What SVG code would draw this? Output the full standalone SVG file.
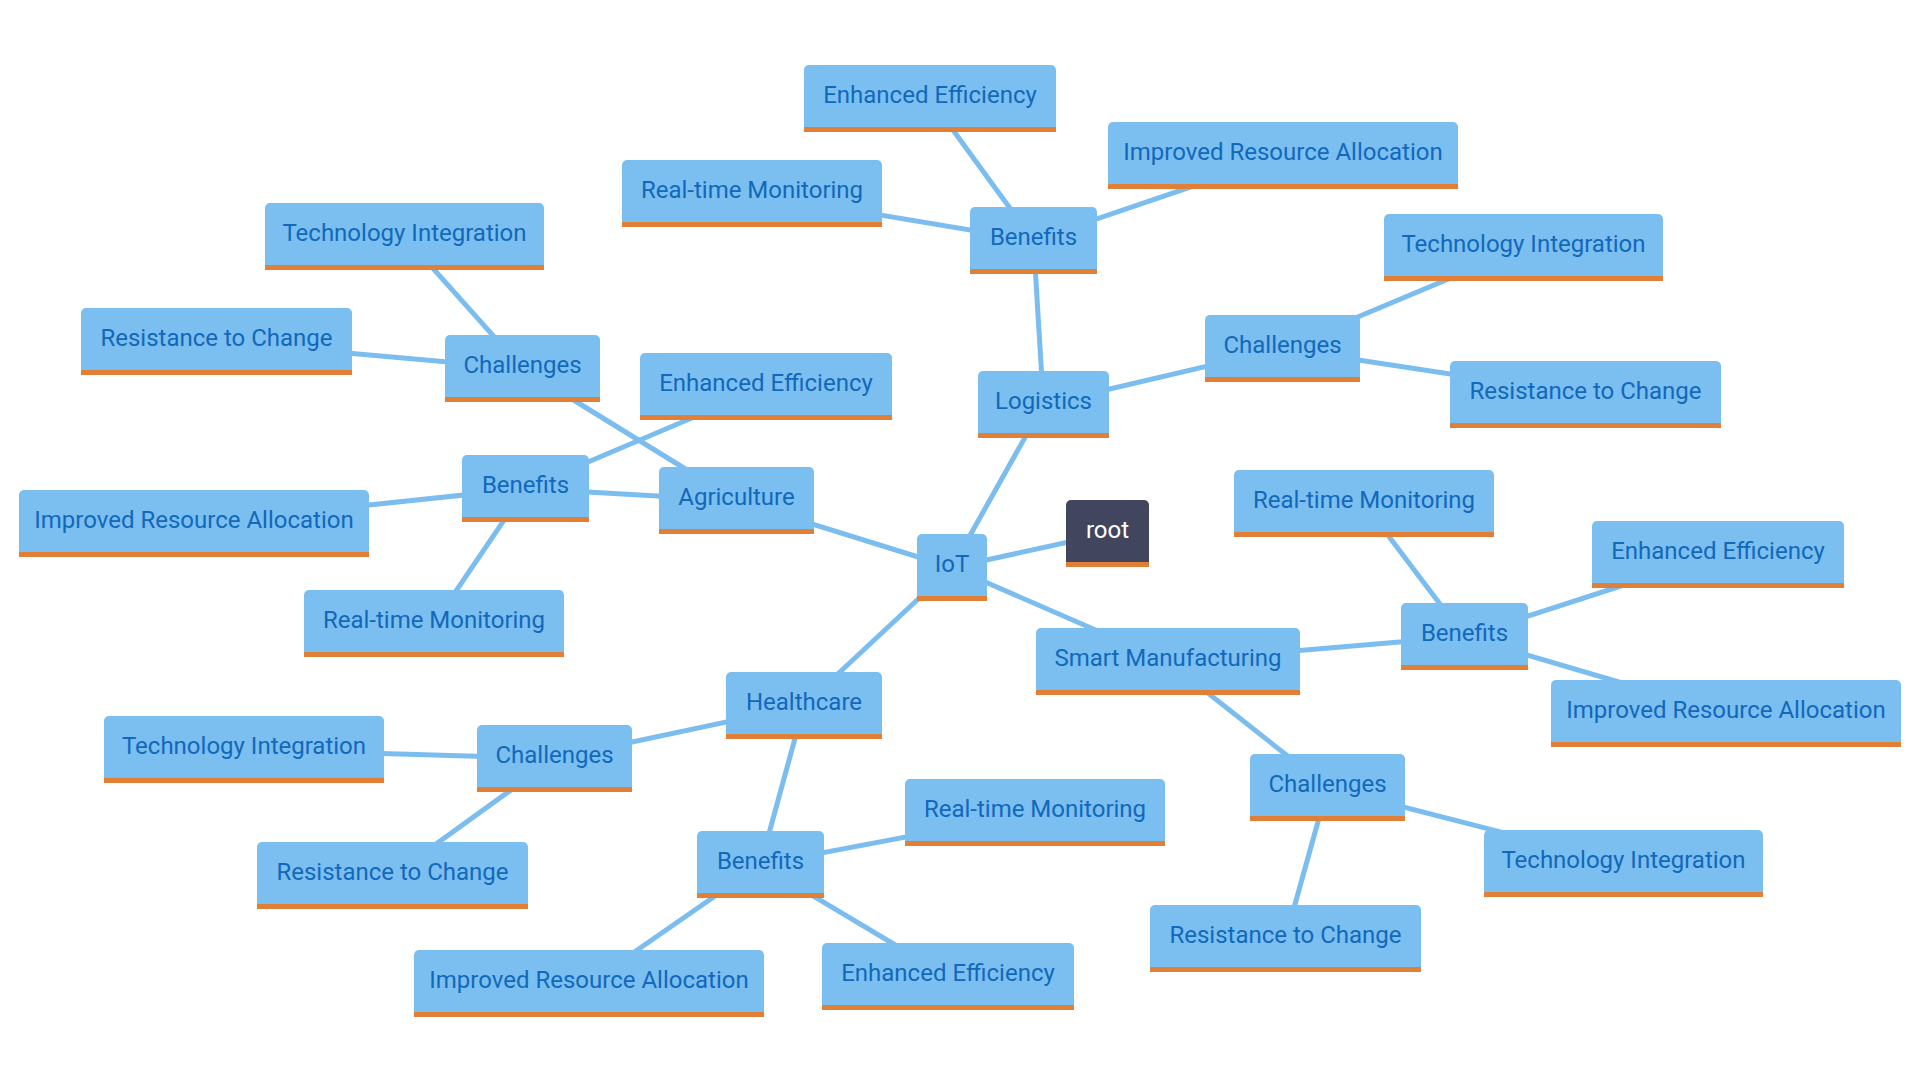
<svg xmlns="http://www.w3.org/2000/svg" width="1920" height="1080" viewBox="0 0 1920 1080">
<style>
.bg{fill:#ffffff}
.box{fill:#7BBFF0}
.root{fill:#41465E}
.bar{fill:#E07F35}
.lbl{font-family:Roboto,"Liberation Sans",sans-serif;font-size:24px;fill:#1268BA;text-anchor:middle}
.rl{fill:#ffffff}
#edges line{stroke:#7BBDEE;stroke-width:5;stroke-linecap:round}
</style>
<rect class="bg" x="0" y="0" width="1920" height="1080"/>
<g id="edges">
<line x1="952" y1="567.5" x2="1107.5" y2="533.5"/>
<line x1="952" y1="567.5" x2="1043.5" y2="404.5"/>
<line x1="952" y1="567.5" x2="736.5" y2="500.5"/>
<line x1="952" y1="567.5" x2="804" y2="705.5"/>
<line x1="952" y1="567.5" x2="1168" y2="661.5"/>
<line x1="1043.5" y1="404.5" x2="1033.5" y2="240.5"/>
<line x1="1043.5" y1="404.5" x2="1282.5" y2="348.5"/>
<line x1="1033.5" y1="240.5" x2="930" y2="98.5"/>
<line x1="1033.5" y1="240.5" x2="752" y2="193.5"/>
<line x1="1033.5" y1="240.5" x2="1283" y2="155.5"/>
<line x1="1282.5" y1="348.5" x2="1523.5" y2="247.5"/>
<line x1="1282.5" y1="348.5" x2="1585.5" y2="394.5"/>
<line x1="736.5" y1="500.5" x2="522.5" y2="368.5"/>
<line x1="736.5" y1="500.5" x2="525.5" y2="488.5"/>
<line x1="522.5" y1="368.5" x2="404.5" y2="236.5"/>
<line x1="522.5" y1="368.5" x2="216.5" y2="341.5"/>
<line x1="525.5" y1="488.5" x2="766" y2="386.5"/>
<line x1="525.5" y1="488.5" x2="194" y2="523.5"/>
<line x1="525.5" y1="488.5" x2="434" y2="623.5"/>
<line x1="804" y1="705.5" x2="554.5" y2="758.5"/>
<line x1="804" y1="705.5" x2="760.5" y2="864.5"/>
<line x1="554.5" y1="758.5" x2="244" y2="749.5"/>
<line x1="554.5" y1="758.5" x2="392.5" y2="875.5"/>
<line x1="760.5" y1="864.5" x2="1035" y2="812.5"/>
<line x1="760.5" y1="864.5" x2="589" y2="983.5"/>
<line x1="760.5" y1="864.5" x2="948" y2="976.5"/>
<line x1="1168" y1="661.5" x2="1464.5" y2="636.5"/>
<line x1="1168" y1="661.5" x2="1327.5" y2="787.5"/>
<line x1="1464.5" y1="636.5" x2="1364" y2="503.5"/>
<line x1="1464.5" y1="636.5" x2="1718" y2="554.5"/>
<line x1="1464.5" y1="636.5" x2="1726" y2="713.5"/>
<line x1="1327.5" y1="787.5" x2="1623.5" y2="863.5"/>
<line x1="1327.5" y1="787.5" x2="1285.5" y2="938.5"/>
</g>
<g id="root"><rect class="root" x="1066" y="500" width="83" height="67" rx="5"/><rect class="bar" x="1066" y="562" width="83" height="5"/><text class="lbl rl" x="1107.5" y="538">root</text></g>
<g id="iot"><rect class="box" x="917" y="534" width="70" height="67" rx="5"/><rect class="bar" x="917" y="596" width="70" height="5"/><text class="lbl" x="952" y="572">IoT</text></g>
<g id="logistics"><rect class="box" x="978" y="371" width="131" height="67" rx="5"/><rect class="bar" x="978" y="433" width="131" height="5"/><text class="lbl" x="1043.5" y="409">Logistics</text></g>
<g id="agriculture"><rect class="box" x="659" y="467" width="155" height="67" rx="5"/><rect class="bar" x="659" y="529" width="155" height="5"/><text class="lbl" x="736.5" y="505">Agriculture</text></g>
<g id="healthcare"><rect class="box" x="726" y="672" width="156" height="67" rx="5"/><rect class="bar" x="726" y="734" width="156" height="5"/><text class="lbl" x="804" y="710">Healthcare</text></g>
<g id="smart-manufacturing"><rect class="box" x="1036" y="628" width="264" height="67" rx="5"/><rect class="bar" x="1036" y="690" width="264" height="5"/><text class="lbl" x="1168" y="666">Smart Manufacturing</text></g>
<g id="log-benefits"><rect class="box" x="970" y="207" width="127" height="67" rx="5"/><rect class="bar" x="970" y="269" width="127" height="5"/><text class="lbl" x="1033.5" y="245">Benefits</text></g>
<g id="log-ee"><rect class="box" x="804" y="65" width="252" height="67" rx="5"/><rect class="bar" x="804" y="127" width="252" height="5"/><text class="lbl" x="930" y="103">Enhanced Efficiency</text></g>
<g id="log-rtm"><rect class="box" x="622" y="160" width="260" height="67" rx="5"/><rect class="bar" x="622" y="222" width="260" height="5"/><text class="lbl" x="752" y="198">Real-time Monitoring</text></g>
<g id="log-ira"><rect class="box" x="1108" y="122" width="350" height="67" rx="5"/><rect class="bar" x="1108" y="184" width="350" height="5"/><text class="lbl" x="1283" y="160">Improved Resource Allocation</text></g>
<g id="log-challenges"><rect class="box" x="1205" y="315" width="155" height="67" rx="5"/><rect class="bar" x="1205" y="377" width="155" height="5"/><text class="lbl" x="1282.5" y="353">Challenges</text></g>
<g id="log-ti"><rect class="box" x="1384" y="214" width="279" height="67" rx="5"/><rect class="bar" x="1384" y="276" width="279" height="5"/><text class="lbl" x="1523.5" y="252">Technology Integration</text></g>
<g id="log-rc"><rect class="box" x="1450" y="361" width="271" height="67" rx="5"/><rect class="bar" x="1450" y="423" width="271" height="5"/><text class="lbl" x="1585.5" y="399">Resistance to Change</text></g>
<g id="agr-challenges"><rect class="box" x="445" y="335" width="155" height="67" rx="5"/><rect class="bar" x="445" y="397" width="155" height="5"/><text class="lbl" x="522.5" y="373">Challenges</text></g>
<g id="agr-ti"><rect class="box" x="265" y="203" width="279" height="67" rx="5"/><rect class="bar" x="265" y="265" width="279" height="5"/><text class="lbl" x="404.5" y="241">Technology Integration</text></g>
<g id="agr-rc"><rect class="box" x="81" y="308" width="271" height="67" rx="5"/><rect class="bar" x="81" y="370" width="271" height="5"/><text class="lbl" x="216.5" y="346">Resistance to Change</text></g>
<g id="agr-benefits"><rect class="box" x="462" y="455" width="127" height="67" rx="5"/><rect class="bar" x="462" y="517" width="127" height="5"/><text class="lbl" x="525.5" y="493">Benefits</text></g>
<g id="agr-ee"><rect class="box" x="640" y="353" width="252" height="67" rx="5"/><rect class="bar" x="640" y="415" width="252" height="5"/><text class="lbl" x="766" y="391">Enhanced Efficiency</text></g>
<g id="agr-ira"><rect class="box" x="19" y="490" width="350" height="67" rx="5"/><rect class="bar" x="19" y="552" width="350" height="5"/><text class="lbl" x="194" y="528">Improved Resource Allocation</text></g>
<g id="agr-rtm"><rect class="box" x="304" y="590" width="260" height="67" rx="5"/><rect class="bar" x="304" y="652" width="260" height="5"/><text class="lbl" x="434" y="628">Real-time Monitoring</text></g>
<g id="hc-challenges"><rect class="box" x="477" y="725" width="155" height="67" rx="5"/><rect class="bar" x="477" y="787" width="155" height="5"/><text class="lbl" x="554.5" y="763">Challenges</text></g>
<g id="hc-ti"><rect class="box" x="104" y="716" width="280" height="67" rx="5"/><rect class="bar" x="104" y="778" width="280" height="5"/><text class="lbl" x="244" y="754">Technology Integration</text></g>
<g id="hc-rc"><rect class="box" x="257" y="842" width="271" height="67" rx="5"/><rect class="bar" x="257" y="904" width="271" height="5"/><text class="lbl" x="392.5" y="880">Resistance to Change</text></g>
<g id="hc-benefits"><rect class="box" x="697" y="831" width="127" height="67" rx="5"/><rect class="bar" x="697" y="893" width="127" height="5"/><text class="lbl" x="760.5" y="869">Benefits</text></g>
<g id="hc-rtm"><rect class="box" x="905" y="779" width="260" height="67" rx="5"/><rect class="bar" x="905" y="841" width="260" height="5"/><text class="lbl" x="1035" y="817">Real-time Monitoring</text></g>
<g id="hc-ira"><rect class="box" x="414" y="950" width="350" height="67" rx="5"/><rect class="bar" x="414" y="1012" width="350" height="5"/><text class="lbl" x="589" y="988">Improved Resource Allocation</text></g>
<g id="hc-ee"><rect class="box" x="822" y="943" width="252" height="67" rx="5"/><rect class="bar" x="822" y="1005" width="252" height="5"/><text class="lbl" x="948" y="981">Enhanced Efficiency</text></g>
<g id="sm-benefits"><rect class="box" x="1401" y="603" width="127" height="67" rx="5"/><rect class="bar" x="1401" y="665" width="127" height="5"/><text class="lbl" x="1464.5" y="641">Benefits</text></g>
<g id="sm-rtm"><rect class="box" x="1234" y="470" width="260" height="67" rx="5"/><rect class="bar" x="1234" y="532" width="260" height="5"/><text class="lbl" x="1364" y="508">Real-time Monitoring</text></g>
<g id="sm-ee"><rect class="box" x="1592" y="521" width="252" height="67" rx="5"/><rect class="bar" x="1592" y="583" width="252" height="5"/><text class="lbl" x="1718" y="559">Enhanced Efficiency</text></g>
<g id="sm-ira"><rect class="box" x="1551" y="680" width="350" height="67" rx="5"/><rect class="bar" x="1551" y="742" width="350" height="5"/><text class="lbl" x="1726" y="718">Improved Resource Allocation</text></g>
<g id="sm-challenges"><rect class="box" x="1250" y="754" width="155" height="67" rx="5"/><rect class="bar" x="1250" y="816" width="155" height="5"/><text class="lbl" x="1327.5" y="792">Challenges</text></g>
<g id="sm-ti"><rect class="box" x="1484" y="830" width="279" height="67" rx="5"/><rect class="bar" x="1484" y="892" width="279" height="5"/><text class="lbl" x="1623.5" y="868">Technology Integration</text></g>
<g id="sm-rc"><rect class="box" x="1150" y="905" width="271" height="67" rx="5"/><rect class="bar" x="1150" y="967" width="271" height="5"/><text class="lbl" x="1285.5" y="943">Resistance to Change</text></g>
</svg>
